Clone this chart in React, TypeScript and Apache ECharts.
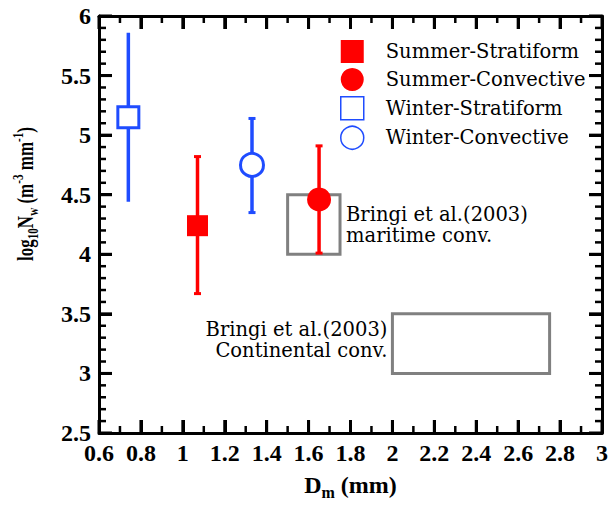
import React, { useEffect, useRef } from "react";
import * as echarts from "echarts";

// Rain-type groups: mass-weighted mean diameter Dm (mm) and log10 Nw with its spread
const groups = ["Summer-Stratiform", "Summer-Convective", "Winter-Stratiform", "Winter-Convective"];
const dmValues = [1.07, 1.65, 0.74, 1.33];
const nwValues = [4.24, 4.46, 5.15, 4.75];
const nwLow = [3.67, 4.01, 4.44, 4.35];
const nwHigh = [4.82, 4.91, 5.86, 5.14];

// Bringi et al. (2003) convective clusters: [Dm min, Dm max, log10Nw min, log10Nw max]
const bringiLabels = ["Bringi et al.(2003)\nmaritime conv.", "Bringi et al.(2003)\nContinental conv."];
const bringiBoxes = [
  [1.5, 1.75, 4.0, 4.5],
  [2.0, 2.75, 3.0, 3.5],
];

// axis ranges and tick marks (major values, minor subdivisions per major step)
const xRange = { min: 0.6, max: 3, interval: 0.2 };
const yRange = { min: 2.5, max: 6, interval: 0.5 };
const xMajorTicks = [0.6, 0.8, 1.0, 1.2, 1.4, 1.6, 1.8, 2.0, 2.2, 2.4, 2.6, 2.8, 3.0];
const yMajorTicks = [2.5, 3.0, 3.5, 4.0, 4.5, 5.0, 5.5, 6.0];
const xMinorPerStep = 2;
const yMinorPerStep = 5;

const RED = "#ff0000";
const BLUE = "#1f4cff";
const GRAY = "#808080";
const TICK = "#000000";

const styles = [
  { symbol: "rect", size: 21, filled: true, color: RED, cap: 7 },
  { symbol: "circle", size: 24, filled: true, color: RED, cap: 7 },
  { symbol: "rect", size: 21, filled: false, color: BLUE, cap: 0 },
  { symbol: "circle", size: 23, filled: false, color: BLUE, cap: 7 },
];
const labelSide = ["right", "left"];

const serif = "DejaVu Serif";
const boldSerif = "Liberation Serif";

// major ticks plus the evenly spaced minor ticks between them
function withMinor(major: number[], per: number) {
  const out: { v: number; major: boolean }[] = [];
  major.forEach((v, i) => {
    out.push({ v, major: true });
    if (i < major.length - 1) {
      const step = (major[i + 1] - v) / per;
      for (let k = 1; k < per; k++) out.push({ v: v + k * step, major: false });
    }
  });
  return out;
}

const axisBase = () => ({
  axisLine: { show: true, onZero: false, lineStyle: { color: "#000", width: 3 } },
  axisTick: { show: true, inside: true, length: 13, lineStyle: { color: TICK, width: 3 } },
  splitLine: { show: false },
});

export default function App() {
  const ref = useRef<HTMLDivElement>(null);

  useEffect(() => {
    if (!ref.current) return;
    const chart = echarts.init(ref.current, null, { renderer: "svg" });

    const tickLabel = () => ({
      fontFamily: boldSerif,
      fontWeight: "bold",
      fontSize: 24,
      color: "#000",
      margin: 8,
      showMinLabel: true,
      showMaxLabel: true,
    });

    // inward ticks on all four sides of the frame, placed through the axes' scales;
    // the single anchor item sits in the middle of the plot so it is never culled
    const tickSeries = {
      type: "custom",
      name: "frame ticks",
      z: 6,
      silent: true,
      clip: false,
      data: [[(xRange.min + xRange.max) / 2, (yRange.min + yRange.max) / 2]],
      renderItem: (_p: any, api: any) => {
        const children: any[] = [];
        const seg = (x1: number, y1: number, x2: number, y2: number, major: boolean) =>
          children.push({
            type: "line",
            shape: { x1, y1, x2, y2 },
            style: { stroke: TICK, lineWidth: major ? 3 : 2.5 },
          });
        withMinor(xMajorTicks, xMinorPerStep).forEach(({ v, major }) => {
          const len = major ? 13 : 7;
          const b = api.coord([v, yRange.min]);
          const t = api.coord([v, yRange.max]);
          seg(b[0], b[1], b[0], b[1] - len, major);
          seg(t[0], t[1], t[0], t[1] + len, major);
        });
        withMinor(yMajorTicks, yMinorPerStep).forEach(({ v, major }) => {
          const len = major ? 13 : 7;
          const l = api.coord([xRange.min, v]);
          const r = api.coord([xRange.max, v]);
          seg(l[0], l[1], l[0] + len, l[1], major);
          seg(r[0], r[1], r[0] - len, r[1], major);
        });
        return { type: "group", children };
      },
    };

    const errorSeries = groups.map((g, i) => ({
      type: "custom",
      name: g + " range",
      z: 3,
      silent: true,
      data: [[dmValues[i], nwLow[i], nwHigh[i]]],
      renderItem: (_p: any, api: any) => {
        const x = api.value(0);
        const lo = api.coord([x, api.value(1)]);
        const hi = api.coord([x, api.value(2)]);
        const c = styles[i].color;
        const w = styles[i].cap / 2;
        const children: any[] = [
          { type: "line", shape: { x1: hi[0], y1: hi[1], x2: lo[0], y2: lo[1] }, style: { stroke: c, lineWidth: 3.5 } },
        ];
        if (w > 0) {
          children.push(
            { type: "line", shape: { x1: hi[0] - w, y1: hi[1], x2: hi[0] + w, y2: hi[1] }, style: { stroke: c, lineWidth: 3 } },
            { type: "line", shape: { x1: lo[0] - w, y1: lo[1], x2: lo[0] + w, y2: lo[1] }, style: { stroke: c, lineWidth: 3 } }
          );
        }
        return { type: "group", children };
      },
    }));

    const pointSeries = groups.map((g, i) => ({
      type: "scatter",
      name: g,
      z: 5,
      symbol: styles[i].symbol,
      symbolSize: styles[i].size,
      itemStyle: styles[i].filled
        ? { color: styles[i].color, opacity: 1 }
        : { color: "#ffffff", borderColor: styles[i].color, borderWidth: 3, opacity: 1 },
      data: [[dmValues[i], nwValues[i]]],
    }));

    const boxSeries = {
      type: "custom",
      name: "Bringi et al.(2003)",
      z: 2,
      silent: true,
      data: bringiBoxes.map((b, k) => [...b, k]),
      renderItem: (_p: any, api: any) => {
        const p0 = api.coord([api.value(0), api.value(3)]);
        const p1 = api.coord([api.value(1), api.value(2)]);
        const k = api.value(4);
        const side = labelSide[k];
        const midY = (p0[1] + p1[1]) / 2;
        return {
          type: "group",
          children: [
            {
              type: "rect",
              shape: { x: p0[0], y: p0[1], width: p1[0] - p0[0], height: p1[1] - p0[1] },
              style: { fill: "none", stroke: GRAY, lineWidth: 3 },
            },
            {
              type: "text",
              x: side === "right" ? p1[0] + 6 : p0[0] - 5,
              y: midY - (side === "right" ? 0 : 4),
              style: {
                text: bringiLabels[k],
                fontFamily: serif,
                fontSize: 19.5,
                lineHeight: 21,
                fill: "#000",
                align: side === "right" ? "left" : "right",
                verticalAlign: "middle",
              },
            },
          ],
        };
      },
    };

    chart.setOption({
      animation: false,
      grid: { left: 99, top: 16, right: 6, bottom: 75 },
      legend: {
        orient: "vertical",
        left: 335,
        top: 35,
        itemWidth: 23,
        itemHeight: 23,
        itemGap: 5,
        selectedMode: false,
        formatter: "{pad| }{name}",
        textStyle: {
          fontFamily: serif,
          fontSize: 19.5,
          color: "#000",
          rich: { pad: { width: 17, fontFamily: serif, fontSize: 19.5 } },
        },
        data: groups.map((g, i) => ({
          name: g,
          icon: styles[i].symbol,
          itemStyle: styles[i].filled
            ? { color: styles[i].color }
            : { color: "#ffffff", borderColor: styles[i].color, borderWidth: 1.5 },
        })),
      },
      xAxis: [
        {
          type: "value",
          position: "bottom",
          ...xRange,
          ...axisBase(),
          axisLabel: tickLabel(),
          name: "{a|D}{b|m}{a| (mm)}",
          nameLocation: "middle",
          nameGap: 37,
          nameTextStyle: {
            rich: {
              a: { fontFamily: boldSerif, fontWeight: "bold", fontSize: 24, lineHeight: 30, color: "#000" },
              b: { fontFamily: boldSerif, fontWeight: "bold", fontSize: 16, lineHeight: 16, verticalAlign: "bottom", color: "#000" },
            },
          },
        },
        { type: "value", position: "top", ...xRange, ...axisBase(), axisLabel: { show: false } },
      ],
      yAxis: [
        { type: "value", position: "left", ...yRange, ...axisBase(), axisLabel: tickLabel() },
        { type: "value", position: "right", ...yRange, ...axisBase(), axisLabel: { show: false } },
      ],
      graphic: [
        {
          type: "text",
          x: 25,
          y: 194,
          rotation: Math.PI / 2,
          scaleX: 0.74,
          style: {
            text: "{a|log}{b|10}{a|N}{b|w}{a| (m}{c|-3}{a| mm}{c|-1}{a|)}",
            align: "center",
            verticalAlign: "middle",
            rich: {
              a: { fontFamily: boldSerif, fontWeight: "bold", fontSize: 23, lineHeight: 30, fill: "#000" },
              b: { fontFamily: boldSerif, fontWeight: "bold", fontSize: 15, lineHeight: 15, verticalAlign: "bottom", fill: "#000" },
              c: { fontFamily: boldSerif, fontWeight: "bold", fontSize: 15, lineHeight: 15, verticalAlign: "top", fill: "#000" },
            },
          },
        },
      ],
      series: [boxSeries, ...errorSeries, ...pointSeries, tickSeries],
    });

    return () => chart.dispose();
  }, []);

  return (
    <div
      ref={ref}
      style={{ position: "fixed", left: 0, top: 0, width: 611, height: 508, background: "#fff" }}
    />
  );
}
